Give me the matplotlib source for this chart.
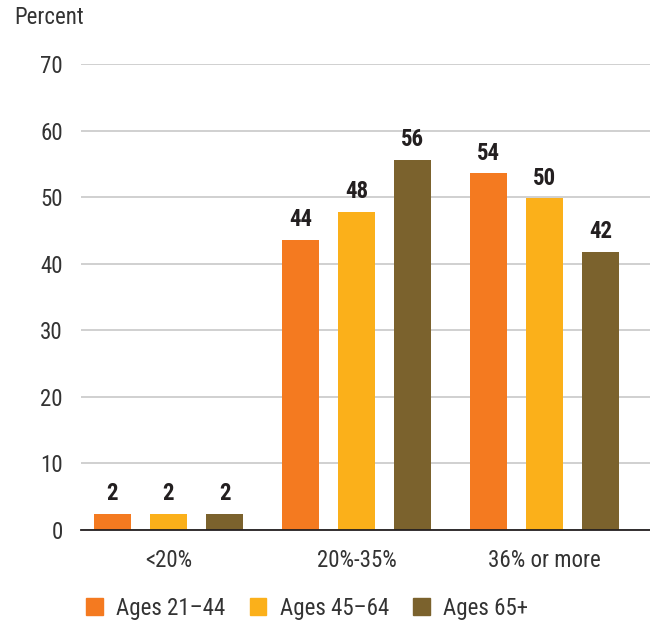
import matplotlib
matplotlib.use('Agg')
import matplotlib.pyplot as plt
from matplotlib.patches import Patch
import numpy as np

plt.rcParams['font.family'] = ['Roboto Condensed', 'Archivo Narrow', 'DejaVu Sans']

categories = ['<20%', '20%-35%', '36% or more']
groups = ['Ages 21–44', 'Ages 45–64', 'Ages 65+']
values = [
	[2.4, 43.6, 53.6],
	[2.4, 47.8, 49.8],
	[2.4, 55.6, 41.8],
]
labels = [
	[2, 44, 54],
	[2, 48, 50],
	[2, 56, 42],
]
colors = ['#F47A20', '#FBB01A', '#7B622D']

fig = plt.figure(figsize=(6.5, 6.23), dpi=100)
ax = fig.add_axes([0.1246, 0.1493, 0.8754, 0.748])

x = np.arange(len(categories))
w = 0.197
off = 0.298
for i in range(3):
	xs = x + (i-1)*off
	ax.bar(xs, values[i], width=w, color=colors[i], zorder=3)
	for xi, v, l in zip(xs, values[i], labels[i]):
		ax.text(xi, v + 1.3, str(l), ha='center', va='bottom',
			fontsize=16.5, fontweight='bold', color='#231F20')

ax.set_xlim(-0.465, 2.56)
ax.set_ylim(0, 70)
ax.set_yticks(range(0, 71, 10))
ax.set_xticks(x)
ax.set_xticklabels(categories)
ax.tick_params(axis='both', length=0, labelsize=16.5, colors='#333333')
ax.tick_params(axis='y', pad=13)
ax.tick_params(axis='x', pad=14)
ax.grid(axis='y', color='#C8C8C8', linewidth=1.2, zorder=0)
for s in ['top', 'right', 'left']:
	ax.spines[s].set_visible(False)
ax.spines['bottom'].set_color('#231F20')
ax.spines['bottom'].set_linewidth(1.3)
ax.spines['bottom'].set_zorder(4)

fig.text(14/650, 1-18/623, 'Percent', ha='left', va='center', fontsize=16.5, color='#333333')

handles = [Patch(color=c) for c in colors]
fig.legend(handles, groups, loc='center left', bbox_to_anchor=(86/650, 1-608/623),
	ncol=3, frameon=False, fontsize=16.5, handlelength=0.72, handleheight=0.72,
	handletextpad=0.6, columnspacing=1.05, borderaxespad=0, borderpad=0,
	labelcolor='#333333')

fig.savefig('out.png', dpi=100)
